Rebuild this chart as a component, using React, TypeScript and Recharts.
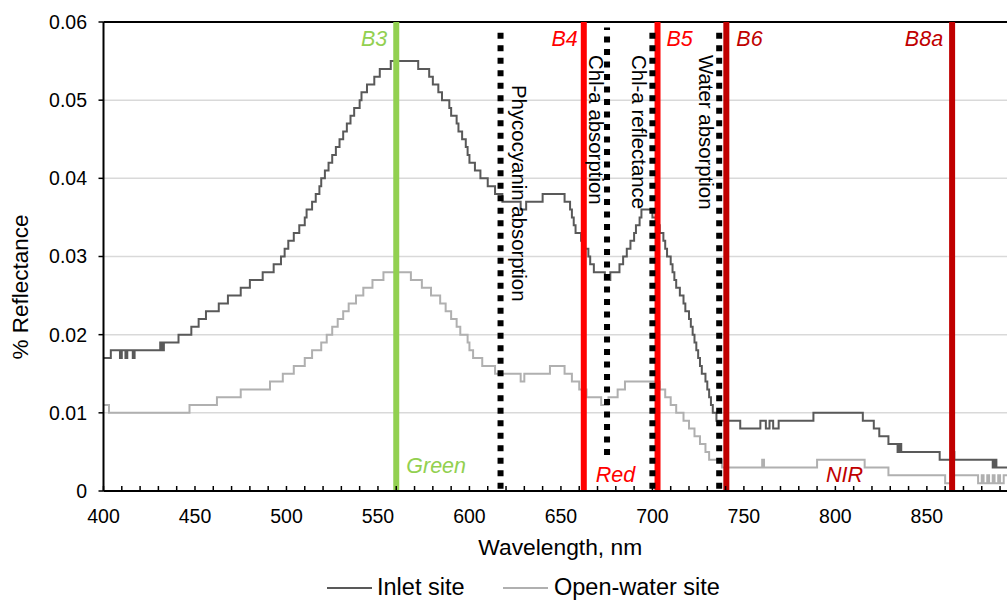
import React from 'react';
import { LineChart, Line, XAxis, YAxis, CartesianGrid, ReferenceLine, Legend } from 'recharts';

// [wavelength nm, reflectance] breakpoints, value holds until next wavelength
const inletSite: [number, number][] = [
  [400, 0.017], [404, 0.018], [409, 0.017], [410, 0.018], [412, 0.017], [413, 0.018],
  [416, 0.017], [417, 0.018], [431, 0.019], [432, 0.018], [433, 0.019], [441, 0.02],
  [448, 0.021], [452, 0.022], [456, 0.023], [463, 0.024], [468, 0.025], [475, 0.026],
  [480, 0.027], [487, 0.028], [493, 0.029], [497, 0.03], [499, 0.031], [501, 0.032],
  [504, 0.033], [507, 0.034], [510, 0.035], [511, 0.036], [514, 0.037], [516, 0.038],
  [518, 0.039], [519, 0.04], [521, 0.041], [523, 0.042], [525, 0.043], [527, 0.044],
  [529, 0.045], [531, 0.046], [533, 0.047], [535, 0.048], [537, 0.049], [540, 0.05],
  [541, 0.051], [544, 0.052], [548, 0.053], [551, 0.054], [557, 0.055], [572, 0.054],
  [578, 0.053], [580, 0.052], [583, 0.051], [585, 0.05], [589, 0.049], [590, 0.048],
  [593, 0.047], [594, 0.046], [596, 0.045], [598, 0.044], [599, 0.043], [600, 0.042],
  [603, 0.041], [606, 0.04], [610, 0.039], [614, 0.038], [618, 0.037], [628, 0.036],
  [631, 0.037], [640, 0.038], [652, 0.037], [655, 0.036], [656, 0.035], [657, 0.034],
  [658, 0.033], [661, 0.032], [663, 0.031], [665, 0.03], [666, 0.029], [668, 0.028],
  [674, 0.027], [677, 0.028], [682, 0.029], [684, 0.03], [686, 0.031], [688, 0.032],
  [690, 0.033], [691, 0.034], [693, 0.035], [694, 0.036], [700, 0.035], [702, 0.034],
  [704, 0.033], [706, 0.032], [707, 0.031], [708, 0.03], [710, 0.029], [711, 0.028],
  [712, 0.027], [713, 0.026], [715, 0.025], [717, 0.024], [718, 0.023], [720, 0.022],
  [721, 0.021], [722, 0.02], [723, 0.019], [724, 0.018], [725, 0.017], [726, 0.016],
  [727, 0.015], [729, 0.014], [730, 0.013], [731, 0.012], [732, 0.011], [733, 0.01],
  [735, 0.009], [748, 0.008], [759, 0.009], [762, 0.008], [764, 0.009], [766, 0.008],
  [769, 0.009], [788, 0.01], [815, 0.009], [821, 0.008], [824, 0.007], [829, 0.006],
  [834, 0.005], [835, 0.006], [836, 0.005], [857, 0.004], [864, 0.005], [865, 0.004],
  [886, 0.003], [887, 0.004], [888, 0.003], [894, 0.003],
];

const openWaterSite: [number, number][] = [
  [400, 0.011], [403, 0.01], [447, 0.011], [462, 0.012], [475, 0.013], [491, 0.014],
  [498, 0.015], [504, 0.016], [510, 0.017], [514, 0.018], [519, 0.019], [522, 0.02],
  [525, 0.021], [528, 0.022], [531, 0.023], [534, 0.024], [538, 0.025], [542, 0.026],
  [547, 0.027], [553, 0.028], [568, 0.027], [574, 0.026], [579, 0.025], [584, 0.024],
  [587, 0.023], [590, 0.022], [593, 0.021], [595, 0.02], [599, 0.019], [600, 0.018],
  [602, 0.017], [607, 0.016], [614, 0.015], [628, 0.014], [630, 0.015], [644, 0.016],
  [652, 0.015], [656, 0.014], [660, 0.013], [664, 0.012], [672, 0.011], [676, 0.012],
  [681, 0.013], [685, 0.014], [704, 0.013], [707, 0.012], [710, 0.011], [713, 0.01],
  [717, 0.009], [720, 0.008], [723, 0.007], [726, 0.006], [729, 0.005], [731, 0.004],
  [738, 0.003], [760, 0.004], [761, 0.003], [790, 0.004], [816, 0.003], [829, 0.002],
  [860, 0.001], [864, 0.002], [878, 0.001], [880, 0.002], [881, 0.001], [883, 0.002],
  [884, 0.001], [886, 0.002], [887, 0.001], [889, 0.002], [890, 0.001], [892, 0.002],
  [894, 0.002],
];

const xTicks = [
  400, 410, 420, 430, 440, 450, 460, 470, 480, 490, 500, 510, 520, 530, 540, 550, 560,
  570, 580, 590, 600, 610, 620, 630, 640, 650, 660, 670, 680, 690, 700, 710, 720, 730,
  740, 750, 760, 770, 780, 790, 800, 810, 820, 830, 840, 850, 860, 870, 880, 890,
];
const yTicks = [0, 0.01, 0.02, 0.03, 0.04, 0.05, 0.06];

// Sentinel-2 band lines
const bandNames = ['B3', 'B4', 'B5', 'B6', 'B8a'];
const bandNm = [560, 662.5, 702.8, 740.4, 863.8];
const bandColors = ['#92d050', '#ff0000', '#ff0000', '#c00000', '#c00000'];

// spectral features (dotted lines)
const featureNames = ['Phycocyanin absorption', 'Chl-a absorption', 'Chl-a reflectance', 'Water absorption'];
const featureNm = [617, 675.2, 700, 736.5];

const regionNames = ['Green', 'Red', 'NIR'];

const FONT = '"Liberation Sans", Arial, sans-serif';
const INLET = '#595959';
const OPEN = '#b0b0b0';

// label placement relative to each line (layout only)
const bandLabelPos = [
  { dx: -9, anchor: 'end' },
  { dx: -6, anchor: 'end' },
  { dx: 9, anchor: 'start' },
  { dx: 10, anchor: 'start' },
  { dx: -9, anchor: 'end' },
];
const regionLabelPos = [
  { band: 0, dx: 10, dy: 451, anchor: 'start' },
  { band: 1, dx: 12, dy: 460, anchor: 'start' },
  { band: 4, dx: -89, dy: 460, anchor: 'end' },
];
const featureLabelPos = [
  { dx: 11.5, top: 63 },
  { dx: -18, top: 33 },
  { dx: -20.5, top: 33 },
  { dx: -20, top: 33 },
];

const inletData = inletSite.map(([nm, r]) => ({ nm, r }));
const openData = openWaterSite.map(([nm, r]) => ({ nm, r }));

const XTick = (props: any) => {
  const { x, y, payload } = props;
  const v = payload.value;
  return (
    <g>
      <line x1={x} x2={x} y1={y} y2={y - 5} stroke="#000" strokeWidth={1.5} />
      {v % 50 === 0 && (
        <text x={x} y={y + 32} textAnchor="middle" fontSize={19.5} fill="#000" fontFamily={FONT}>
          {v}
        </text>
      )}
    </g>
  );
};

const renderLegend = () => (
  <svg width={1007} height={30} style={{ display: 'block' }}>
    <line x1={327} x2={372} y1={18} y2={18} stroke={INLET} strokeWidth={2} />
    <text x={377} y={25} fontSize={23.5} fill="#000" fontFamily={FONT}>Inlet site</text>
    <line x1={503} x2={548} y1={18} y2={18} stroke={OPEN} strokeWidth={2} />
    <text x={554} y={25} fontSize={23.5} fill="#000" fontFamily={FONT}>Open-water site</text>
  </svg>
);

export default function App() {
  return (
    <div style={{ position: 'absolute', left: 0, top: 0, width: 1007, height: 600, background: '#fff', fontFamily: FONT }}>
      <LineChart width={1007} height={600} margin={{ top: 22, right: 0, bottom: 0, left: 0 }}>
        <CartesianGrid vertical={false} stroke="#d9d9d9" strokeWidth={1.5} />
        <XAxis
          dataKey="nm"
          type="number"
          domain={[400, 893.8]}
          allowDataOverflow
          ticks={xTicks}
          interval={0}
          height={79}
          tickSize={0}
          tickMargin={0}
          tickLine={false}
          tick={<XTick />}
          axisLine={{ stroke: '#000', strokeWidth: 2 }}
          label={(p: any) => {
            const vb = p.viewBox;
            return (
              <text x={vb.x + vb.width / 2 + 5} y={vb.y + 64} textAnchor="middle" fontSize={22.8} fill="#000" fontFamily={FONT}>
                Wavelength, nm
              </text>
            );
          }}
        />
        <YAxis
          type="number"
          domain={[0, 0.06]}
          ticks={yTicks}
          interval={0}
          width={103.5}
          tickSize={5}
          tickMargin={11.5}
          tickLine={{ stroke: '#000', strokeWidth: 1.5 }}
          axisLine={{ stroke: '#000', strokeWidth: 2 }}
          tick={{ fill: '#000', fontSize: 19.5, fontFamily: FONT }}
          tickFormatter={(v: number) => (v === 0 ? '0' : v.toFixed(2))}
          label={() => (
            <text x={28} y={287} transform="rotate(-90 28 287)" textAnchor="middle" fontSize={22.5} fill="#000" fontFamily={FONT}>
              % Reflectance
            </text>
          )}
        />
        <ReferenceLine y={0.06} stroke="#000" strokeWidth={2} />
        <Line
          data={openData}
          dataKey="r"
          name="Open-water site"
          type="stepAfter"
          stroke={OPEN}
          strokeWidth={2}
          dot={false}
          activeDot={false}
          isAnimationActive={false}
        />
        <Line
          data={inletData}
          dataKey="r"
          name="Inlet site"
          type="stepAfter"
          stroke={INLET}
          strokeWidth={2}
          dot={false}
          activeDot={false}
          isAnimationActive={false}
        />
        {bandNm.map((nm, i) => (
          <ReferenceLine
            key={bandNames[i]}
            x={nm}
            stroke={bandColors[i]}
            strokeWidth={6}
            label={(p: any) => {
              const vb = p.viewBox;
              const pos = bandLabelPos[i];
              const regions = regionLabelPos
                .map((r, k) => ({ ...r, name: regionNames[k] }))
                .filter((r) => r.band === i);
              return (
                <g>
                  <text x={vb.x + pos.dx} y={vb.y + 24} textAnchor={pos.anchor as any} fontSize={21.5} fontStyle="italic" fill={bandColors[i]} fontFamily={FONT}>
                    {bandNames[i]}
                  </text>
                  {regions.map((r) => (
                    <text key={r.name} x={vb.x + r.dx} y={vb.y + r.dy} textAnchor={r.anchor as any} fontSize={21.5} fontStyle="italic" fill={bandColors[i]} fontFamily={FONT}>
                      {r.name}
                    </text>
                  ))}
                </g>
              );
            }}
          />
        ))}
        {featureNm.map((nm, i) => (
          <ReferenceLine
            key={featureNames[i]}
            segment={i === 1 ? [{ x: nm, y: 0.0046 }, { x: nm, y: 0.0593 }] : [{ x: nm, y: 0.0003 }, { x: nm, y: 0.0593 }]}
            stroke="#000"
            strokeWidth={6}
            strokeDasharray="6 6.5"
            label={(p: any) => {
              const vb = p.viewBox;
              const pos = featureLabelPos[i];
              const bx = vb.x + pos.dx;
              const by = 22 + pos.top;
              return (
                <text x={bx} y={by} transform={`rotate(90 ${bx} ${by})`} textAnchor="start" fontSize={20.4} fill="#000" fontFamily={FONT}>
                  {featureNames[i]}
                </text>
              );
            }}
          />
        ))}
        <Legend verticalAlign="bottom" height={30} content={renderLegend} wrapperStyle={{ left: 0, bottom: 0, width: 1007 }} />
      </LineChart>
    </div>
  );
}
